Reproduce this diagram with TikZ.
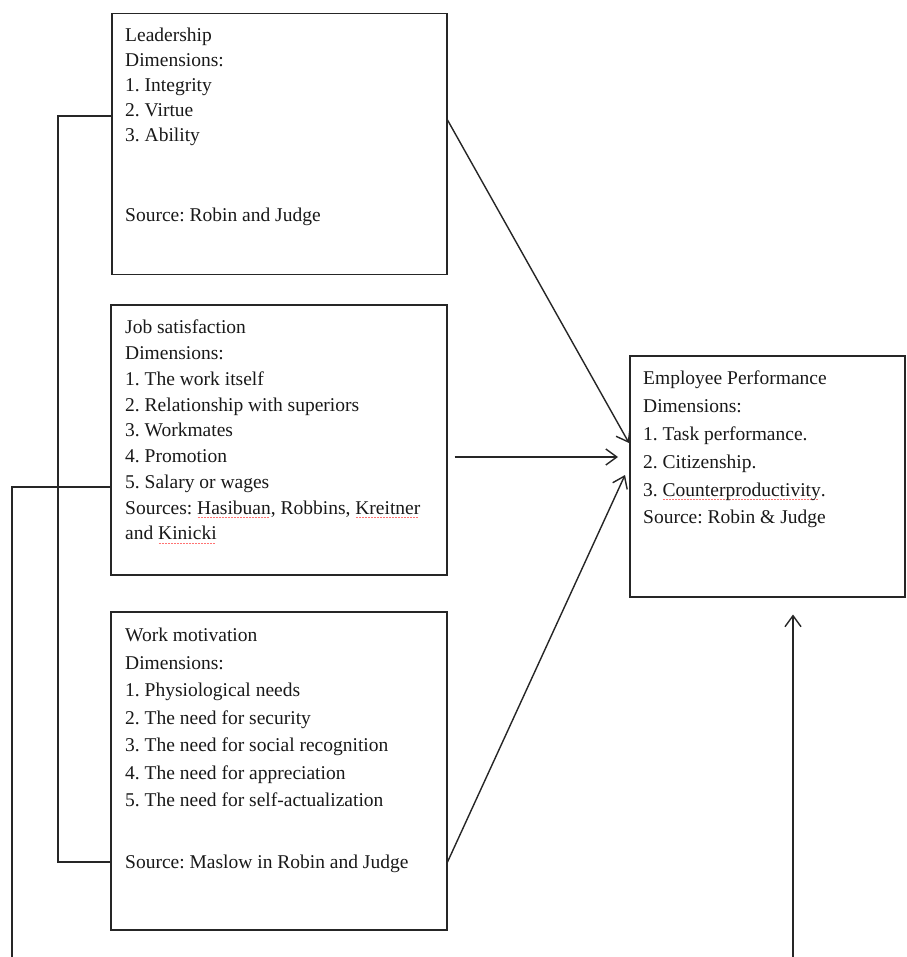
\documentclass[tikz,border=0pt]{standalone}
\usepackage{fontspec}
\setmainfont{Liberation Serif}
\usetikzlibrary{calc,arrows.meta}
\newsavebox\spellbox
\newcommand\spellerr[1]{\sbox\spellbox{#1}\rlap{\color{red!55}\raisebox{-4pt}{\leaders\hbox to 3pt{\hss\rule{1.6pt}{1.2pt}\hss}\hskip\wd\spellbox}}\usebox\spellbox}
\tikzset{
  box/.style={draw=black!85, line width=1.5pt, rectangle, inner sep=0pt, anchor=north west},
  txt/.style={anchor=north west, inner sep=0pt, align=left, text=black!90},
  conn/.style={draw=black!85, line width=1.4pt},
  arr/.style={conn, -{Straight Barb[length=11pt,width=16pt,line width=1.4pt]}}
}
\begin{document}
\begin{tikzpicture}[x=1pt,y=-1pt]
\useasboundingbox (0,0) rectangle (906,957);
\fill[white] (0,0) rectangle (906,957);
% boxes
\node[box, minimum width=335pt, minimum height=261pt] (lead) at (111,13) {};
\node[box, minimum width=336pt, minimum height=270pt] (job) at (110,304) {};
\node[box, minimum width=336pt, minimum height=318pt] (work) at (110,611) {};
\node[box, minimum width=275pt, minimum height=241pt] (emp) at (629,355) {};
% texts
\node[txt, font=\fontsize{19.5}{25}\selectfont\frenchspacing] (leadtxt) at (125,28)
  {Leadership\\ Dimensions:\\ 1. Integrity\\ 2. Virtue\\ 3. Ability\\[55pt] Source: Robin and Judge};
\node[txt, font=\fontsize{19.5}{25.75}\selectfont\frenchspacing] (jobtxt) at (125,320)
  {Job satisfaction\\ Dimensions:\\ 1. The work itself\\ 2. Relationship with superiors\\ 3. Workmates\\ 4. Promotion\\ 5. Salary or wages\\ Sources: \spellerr{Hasibuan}, Robbins, \spellerr{Kreitner}\\ and \spellerr{Kinicki}};
\node[txt, font=\fontsize{19.5}{27.5}\selectfont\frenchspacing] (worktxt) at (125,628)
  {Work motivation\\ Dimensions:\\ 1. Physiological needs\\ 2. The need for security\\ 3. The need for social recognition\\ 4. The need for appreciation\\ 5. The need for self-actualization\\[34.5pt] Source: Maslow in Robin and Judge};
\node[txt, font=\fontsize{19.5}{27.8}\selectfont\frenchspacing] (emptxt) at (643,371)
  {Employee Performance\\ Dimensions:\\ 1. Task performance.\\ 2. Citizenship.\\ 3. \spellerr{Counterproductivity}.\\ Source: Robin \& Judge};
% connector points
\coordinate (l1) at ($(lead.north west)+(0,103)$);
\coordinate (w1) at ($(work.north west)+(0,251)$);
\coordinate (j1) at ($(job.north west)+(0,183)$);
\coordinate (b1) at (12,957);
\coordinate (b2) at (793,957);
% brackets
\draw[conn] (l1) -- ++(-53,0) |- (w1);
\draw[conn] (j1) -| (b1);
% arrows to Employee Performance
\draw[arr] ($(lead.north east)+(0,107)$) -- ($(emp.north west)+(0,88)$);
\draw[arr] ($(job.north east)+(7,153)$) -- ($(emp.north west)+(-11,102)$);
\draw[arr] ($(work.north east)+(0,251)$) -- ($(emp.north west)+(-4,120)$);
\draw[arr, shorten >=17pt] (b2) -- (b2 |- emp.south);
\end{tikzpicture}
\end{document}
